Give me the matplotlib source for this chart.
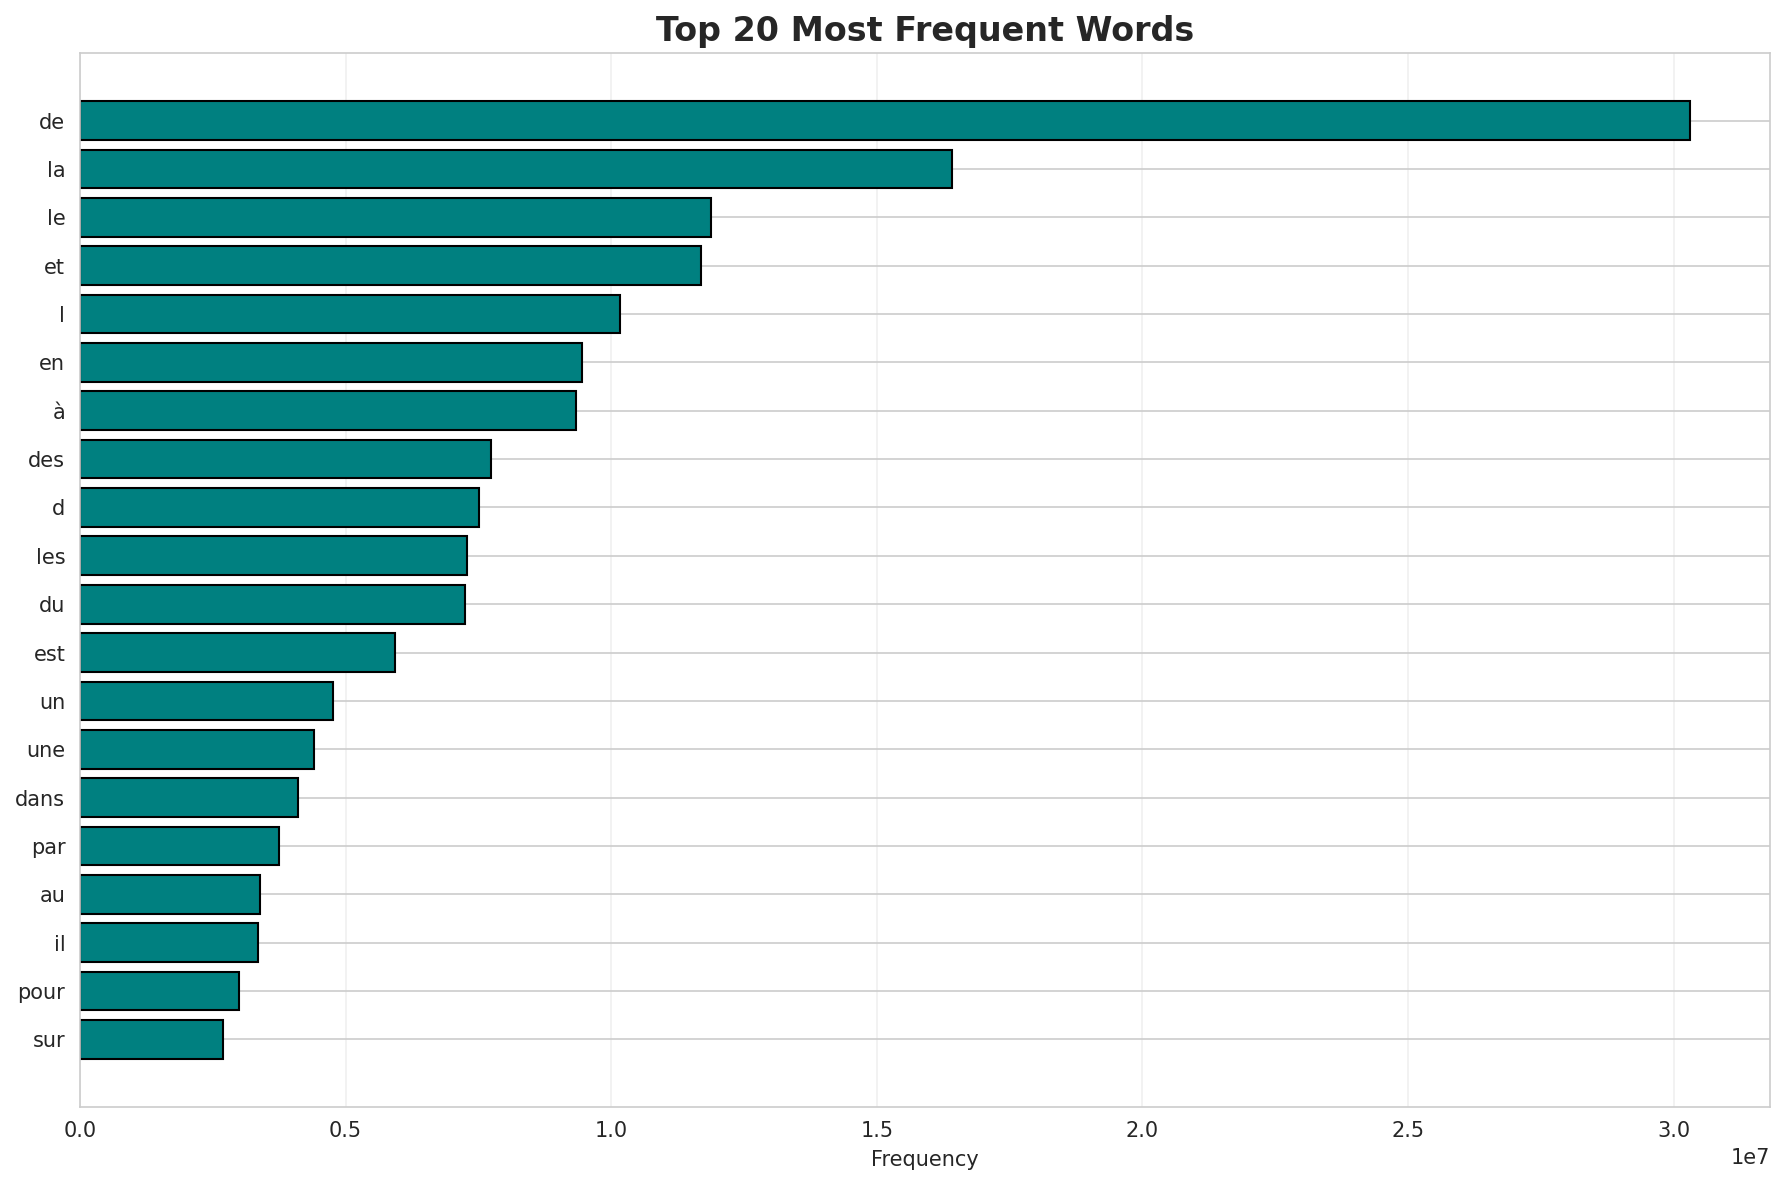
import matplotlib
matplotlib.use("Agg")
import matplotlib.pyplot as plt
import seaborn as sns

sns.set_style("whitegrid")

words = ["de", "la", "le", "et", "l", "en", "à", "des", "d", "les",
         "du", "est", "un", "une", "dans", "par", "au", "il", "pour", "sur"]
counts = [30.30e6, 16.41e6, 11.87e6, 11.70e6, 10.16e6, 9.45e6, 9.34e6, 7.74e6, 7.52e6, 7.29e6,
          7.24e6, 5.94e6, 4.76e6, 4.41e6, 4.11e6, 3.75e6, 3.39e6, 3.36e6, 3.00e6, 2.70e6]

fig, ax = plt.subplots(figsize=(1784/150, 1185/150), dpi=150)
ax.barh(words[::-1], counts[::-1], color="teal", edgecolor="black")
ax.set_title("Top 20 Most Frequent Words", fontsize=16, fontweight="bold")
ax.set_xlabel("Frequency")
ax.grid(axis="x", alpha=0.3)
plt.subplots_adjust(left=0.0448, right=0.9922, top=0.955, bottom=0.0661)
plt.savefig("out.png", dpi=150)
